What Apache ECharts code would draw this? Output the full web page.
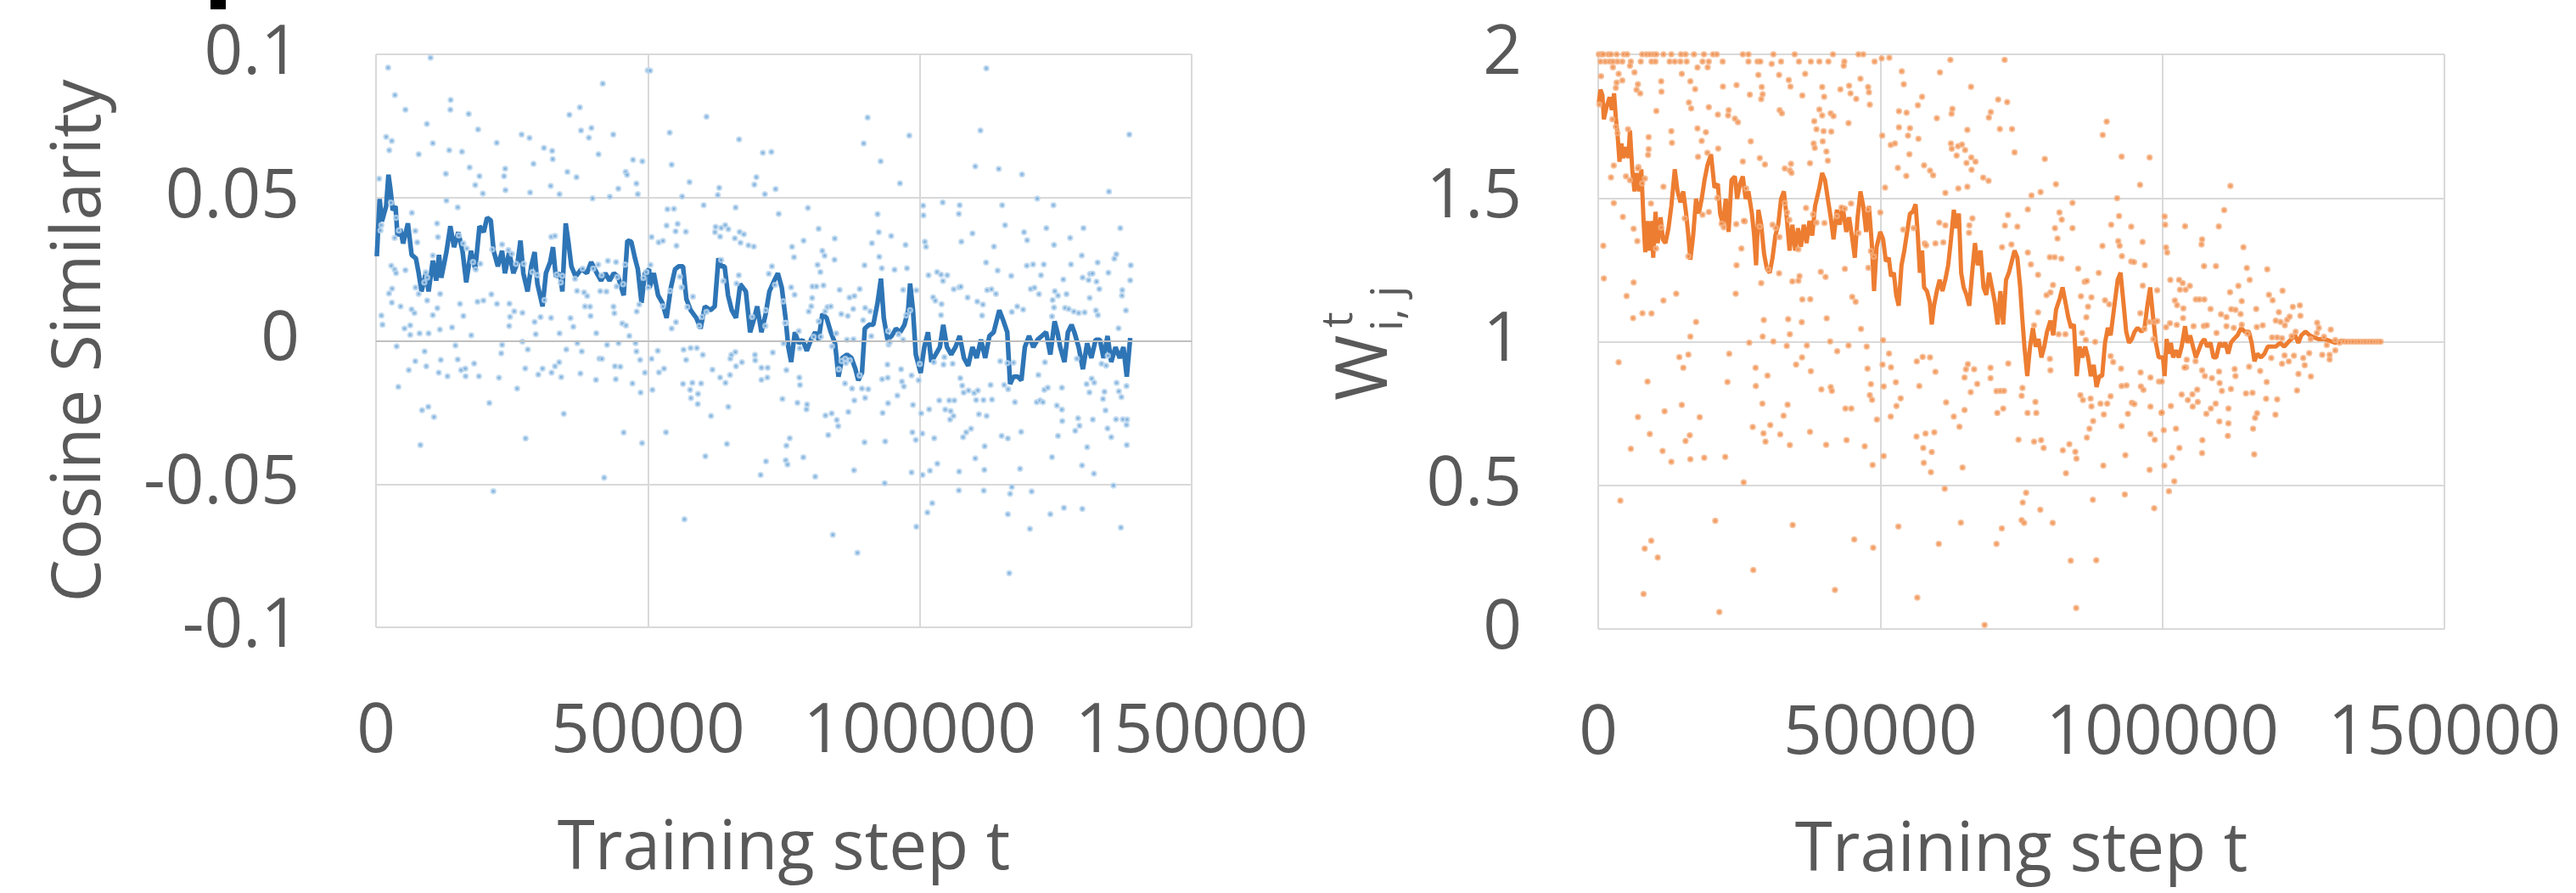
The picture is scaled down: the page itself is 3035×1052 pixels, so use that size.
<!DOCTYPE html>
<html>
<head>
<meta charset="utf-8">
<script src="https://cdn.jsdelivr.net/npm/echarts@6.0.0/dist/echarts.min.js"></script>
<style>
  html, body { margin: 0; padding: 0; background: #fff; }
  #chart { width: 3035px; height: 1052px; }
</style>
</head>
<body>
<div id="chart"></div>
<script>
// ---- data ----
var xTicks = [0, 50000, 100000, 150000];
var cosTicks = [-0.1, -0.05, 0, 0.05, 0.1];
var wTicks = [0, 0.5, 1, 1.5, 2];

// cosine similarity, single samples (step, value)
var cosinePoints = [
  [570,0.0566],[2230,0.0953],[1870,0.0712],[2910,0.0698],[2440,0.0665],[3480,0.0858],[5410,0.0807],[10030,0.0988],[9360,0.0757],[10450,0.069],
  [7850,0.0651],[13730,0.0841],[13670,0.0807],[13470,0.0665],[17050,0.0792],[15810,0.066],[18770,0.0738],[22200,0.0691],[17210,0.0605],[19030,0.0575],
  [18250,0.0544],[19650,0.0514],[23760,0.0601],[23550,0.0575],[23810,0.0526],[26780,0.072],[28230,0.0708],[28960,0.0618],[30890,0.0673],[32390,0.0663],
  [32500,0.0634],[32130,0.0541],[28340,0.0518],[33750,0.0512],[35570,0.0789],[37490,0.0815],[37700,0.0734],[39150,0.0709],[39620,0.0743],[40920,0.0651],
  [41700,0.0898],[43630,0.072],[35200,0.059],[36870,0.0571],[39830,0.0497],[43000,0.0503],[44560,0.0531],[45910,0.059],[46170,0.0579],[47270,0.0632],
  [48980,0.0627],[47890,0.0549],[48150,0.0512],[49970,0.0944],
  [990,0.0404],[830,0.0385],[2810,0.0262],[3430,0.0249],[3690,0.0236],[2390,0.0165],[2960,0.0182],[2910,0.0133],[990,0.0088],[1190,0.0056],
  [4520,0.012],[3790,-0.0019],[4110,-0.0161],[5250,0.0043],[6290,0.0054],[6290,0.0021],[6030,-0.0102],[6550,0.011],[7070,0.0097],[5410,0.0247],
  [6600,0.0447],[7230,0.0384],[7590,0.0344],[7280,0.0186],[7850,0.0164],[8010,0.0026],[7230,-0.0071],[8940,-0.0037],[9250,-0.0089],[9670,0.0026],
  [9410,0.0141],[8470,-0.0242],[9620,-0.023],[10660,-0.0266],[8160,-0.0364],[10450,0.009],[11280,0.0114],[11800,0.0164],[11750,0.0039],[11910,-0.0067],
  [11540,-0.0111],[13150,-0.0124],[13990,0.0047],[11230,0.041],[11390,0.0362],[10450,0.0298],[12840,0.0583],[12950,0.049],[15030,0.0466],[14610,-0.0016],
  [15030,-0.0065],[15440,0.0129],[16070,0.0087],[15650,-0.0102],[16430,-0.0097],[16480,-0.0124],[18040,-0.0079],[17520,0.0019],[18930,-0.0124],[18670,0.0136],
  [19760,0.0141],[20850,-0.0217],[21580,-0.0525],[21220,0.0162],[22250,0.0129],[22620,-0.0129],[23190,-0.0014],[23030,-0.0044],[24540,0.013],[24650,0.0084],
  [24490,0.0052],[25430,0.0103],[26930,0.0098],[26930,-0.0003],[25950,-0.0167],[27450,-0.0096],[27920,-0.003],[27510,-0.0341],[29170,0.0066],[29380,0.0023],
  [29850,-0.0118],[30630,-0.0097],[30260,0.0083],[32190,0.008],[32290,-0.0111],[32920,-0.0089],[33690,-0.0075],[34060,-0.0127],[34530,-0.0255],[33750,0.0026],
  [35000,-0.003],[35770,0.0079],[36290,0.0049],[37020,-0.0008],[37590,-0.0114],[37850,-0.0037],[36970,0.0174],[38430,0.012],[39470,0.0087],[40510,0.0027],
  [40450,-0.0136],[41080,-0.0062],[41550,-0.0063],[42490,-0.0014],[41960,-0.0478],[43940,-0.0089],[44930,-0.009],[44100,-0.0134],[44610,-0.0008],[45550,-0.032],
  [46590,0.0017],[47730,-0.0008],[47890,-0.0037],[48570,-0.0067],[49450,-0.0111],[47160,-0.0149],[48670,-0.0181],[48930,-0.0357],[48410,0.0127],[47940,0.0102],
  [43680,0.0119],[43840,0.0096],[45290,0.0061],[45970,0.0053],[44250,0.019],[41240,0.0173],[38270,0.0169],[38840,0.0156],[39360,0.0119],[42380,0.0172],
  [2760,0.0482],[3690,0.043],[4210,0.0385],[3430,0.0359],[9150,0.0239],[9410,0.0221],[8890,0.0204],[15230,0.0368],[16070,0.034],[16690,0.0322],
  [17830,0.0275],[18350,0.0249],[19190,0.0269],[21370,0.0319],[23190,0.0336],[24340,0.0317],[25010,0.0304],[25740,0.0269],[27200,0.0269],[28760,0.024],
  [29690,0.023],[30990,0.0142],[32240,0.0363],[32920,0.0366],[33230,0.0231],[34270,0.0227],[33960,0.0204],[36610,0.0216],[38010,0.0252],[39940,0.0252],
  [40870,0.0266],[41490,0.0229],[42640,0.0279],[44150,0.0275],[44360,0.0222],[45450,0.0198],[45810,0.0266],[49190,0.022],[49710,0.024],
  [50420,0.0943],[60780,0.0782],[54010,0.0727],[54370,0.0615],[57650,0.0554],[56300,0.0504],[66770,0.0703],[71140,0.0656],[72710,0.0659],[69950,0.0571],
  [69580,0.0545],[63120,0.0534],[62860,0.0509],[71510,0.0512],[73490,0.053],[60260,0.0473],[66140,0.0465],[53590,0.0459],[54790,0.0461],[53440,0.0402],
  [55470,0.0408],[55100,0.0382],[56980,0.0381],[51980,0.0344],[52760,0.0349],[50680,0.0362],[55260,0.0332],[62450,0.0398],[63490,0.0394],[64220,0.0404],
  [62340,0.0379],[63280,0.0364],[64790,0.039],[65990,0.0358],[66870,0.038],[67660,0.0372],[67030,0.0342],[68490,0.0333],[69480,0.0329],[74060,0.0443],
  [79430,0.0464],[81400,0.0391],[78640,0.035],[76510,0.0328],[84370,0.0357],[84320,0.0283],[82080,0.0314],[82500,0.0297],[81200,0.0265],[81720,0.024],
  [76870,0.0292],[72810,0.026],[72240,0.0234],[90410,0.0779],[89690,0.0689],[98070,0.0716],[92810,0.0627],[96350,0.055],[92240,0.0442],[92450,0.0379],
  [91200,0.0341],[94740,0.0366],[97390,0.0335],[89840,0.0264],[92550,0.0293],[93020,0.0253],[95360,0.0248],[97650,0.0253],[99370,0.0176],[96930,0.0178],
  [85260,0.0178],[87080,0.0151],[87970,0.0156],[88960,0.0181],[87760,0.0111],[86770,0.0087],[85570,0.0093],[90880,0.0103],[89950,0.0115],[80260,0.019],
  [80990,0.019],[82290,0.0193],[80210,0.015],[80050,0.0121],[83020,0.0118],[83640,0.012],[79580,0.0102],[76980,0.0161],[76350,0.0187],[74890,0.0138],
  [75420,0.0062],[77760,0.0034],[80470,0.0014],[81820,0.0014],[84630,0.0026],
  [50830,-0.0171],[52030,-0.011],[52970,-0.0097],[53330,-0.0319],[51820,-0.0035],[50680,-0.0063],[55160,0.0065],[54370,0.0043],[57030,-0.0067],[56560,-0.0031],
  [57860,-0.0025],[59010,-0.0025],[60100,-0.0049],[56460,-0.015],[57760,-0.0171],[58180,-0.0147],[59790,-0.0149],[57920,-0.02],[59220,-0.0185],[59170,-0.0221],
  [61610,-0.0262],[60570,-0.0403],[56720,-0.0623],[61870,-0.0101],[63280,-0.0128],[64270,-0.0147],[65100,-0.0119],[64790,-0.023],[64530,-0.036],[65160,-0.0062],
  [65360,-0.0049],[66090,-0.0039],[66200,-0.0089],[67290,-0.0075],[69690,-0.0049],[69740,-0.0068],[70880,-0.0094],[72030,-0.0094],[70880,-0.0136],[71970,-0.0128],
  [72970,-0.0041],[74740,-0.0203],[75470,-0.0102],[75470,-0.0366],[76090,-0.034],[75360,-0.0417],[75680,-0.0432],[71720,-0.0421],[70730,-0.0468],[77500,-0.0216],
  [77860,-0.0128],[77970,-0.0154],[79160,-0.0239],[79270,-0.0222],[78590,-0.0407],[80780,-0.0474],[82660,-0.0261],[83800,-0.0253],[84740,-0.0276],[85000,-0.0298],
  [83170,-0.0329],[84010,-0.0677],[86250,-0.0149],[87550,-0.0167],[87970,-0.0208],[86870,-0.0248],[89370,-0.0167],[89950,-0.0199],[90520,-0.0169],[87910,-0.0452],
  [88540,-0.074],[89840,-0.0354],[93170,-0.0252],[93070,-0.0134],[94110,-0.0129],[94160,-0.0218],[94060,-0.0083],[95880,-0.0191],[96560,-0.0099],[96720,-0.0142],
  [97080,-0.0159],[98490,-0.0121],[98750,-0.0224],[99270,-0.0346],[98640,-0.0319],[98490,-0.0459],[93540,-0.0497],[93640,-0.0351],[99370,-0.0649],[85620,-0.007],
  [86400,-0.0078],[87130,-0.0068],[86610,0.0004],[87810,0.0005],[94270,-0.0013],[94480,-0.0005],[96930,0.0004],
  [50050,0.0185],[50470,0.0265],[52760,0.012],[54110,0.0174],[55880,0.0224],[56200,0.0187],[57240,0.0118],[58280,0.0154],[59430,0.0052],[59950,0.0084],
  [60780,0.0101],[63490,0.0282],[63850,0.0209],[66300,0.02],[66720,0.0229],[69160,0.0084],[71660,0.0107],[71610,0.0052],[73380,0.0195],[75210,0.0062],
  [74950,-0.0009],[77920,-0.0026],[81400,0.0068],[82600,0.0103],[83850,-0.0019],[85100,-0.0099],[86300,-0.0063],[88960,-0.0121],[89580,0.0072],[91090,0.0016],
  [94210,0.0034],[96090,0.0022],[97500,0.0089],[98220,0.0107],
  [112240,0.0951],[111150,0.0734],[138540,0.072],[110210,0.0609],[114530,0.06],[118800,0.0581],[134790,0.0521],[121610,0.0496],[104220,0.0483],[107340,0.0473],
  [100620,0.0472],[100680,0.0438],[107190,0.0443],[115150,0.0473],[124580,0.0473],[115680,0.0404],[109690,0.0375],[119170,0.0379],[123280,0.0393],[130100,0.0393],
  [136870,0.0393],[119740,0.0351],[107650,0.0346],[100940,0.0346],[101150,0.0328],[124690,0.0335],[127650,0.0359],[113640,0.0329],[129790,0.0298],[135780,0.0287],
  [136140,0.0302],[112190,0.0273],[119690,0.0262],[120830,0.0267],[122810,0.0267],[127810,0.0267],[138800,0.0264],[114320,0.0245],[101610,0.0229],[103180,0.024],
  [103910,0.0231],[105050,0.0229],[116820,0.0227],[122290,0.0229],[129950,0.0221],[131300,0.0233],[131770,0.0235],[132710,0.0273],[134690,0.0238],[138700,0.0211],
  [131040,0.0212],[132500,0.0207],[133020,0.0181],[126400,0.0214],[104270,0.0209],[106250,0.018],[107240,0.0187],[107550,0.0189],[112390,0.0177],[113180,0.018],
  [114010,0.0164],[120410,0.0181],[121090,0.0185],[121920,0.0163],[124840,0.0173],[125420,0.0158],[126980,0.0163],[131250,0.015],[137180,0.0158],[137240,0.0177],
  [108800,0.0151],[110570,0.0137],[111610,0.0127],[102450,0.0152],[102860,0.014],[104010,0.0128],[103910,0.009],[117920,0.012],[119010,0.0109],[124430,0.0142],
  [124690,0.0116],[126720,0.0115],[127390,0.0111],[128330,0.0102],[129220,0.0097],[130310,0.0099],[132390,0.0106],[132760,0.009],[137910,0.0106],[111460,0.0088],
  [116930,0.0101],[124320,0.0085],[136560,0.0044],
  [99790,-0.0138],[100260,-0.0253],[100470,-0.0324],[101870,-0.0453],[102660,-0.034],[101720,-0.0239],[103590,-0.0208],[104690,-0.024],[105420,-0.0208],[106350,-0.0208],
  [105570,-0.0275],[106200,-0.0262],[105680,-0.0245],[104370,-0.0083],[107450,-0.013],[107810,-0.0156],[108070,-0.0181],[108960,-0.0173],[110000,-0.0182],[110680,-0.0173],
  [110360,-0.0207],[111720,-0.0207],[113280,-0.0205],[113020,-0.0154],[110880,-0.0256],[112290,-0.0262],[109430,-0.0307],[108540,-0.0319],[107970,-0.0336],[111930,-0.0368],
  [110210,-0.041],[107240,-0.0456],[111870,-0.045],[107190,-0.0522],[111770,-0.0523],[103230,-0.0429],[102290,-0.0567],[101410,-0.0599],[100520,-0.0468],[115520,-0.0154],
  [116250,-0.0169],[117500,-0.0214],[115050,-0.0332],[116200,-0.0341],[118640,-0.0318],[118440,-0.0447],[116930,-0.051],[116610,-0.0534],[116200,-0.0605],[116460,-0.0811],
  [120570,-0.0526],[120260,-0.0656],[121510,-0.0214],[122130,-0.0208],[122650,-0.0214],[122910,-0.0171],[123540,-0.0164],[121820,-0.0119],[125210,-0.0226],[126140,-0.024],
  [126200,-0.028],[126140,-0.0164],[125420,-0.0332],[124320,-0.0406],[124010,-0.0605],[126510,-0.0583],[129110,-0.027],[129380,-0.0296],[128590,-0.0314],[130780,-0.0371],
  [129840,-0.0435],[132030,-0.0464],[129890,-0.0587],[130680,-0.0151],[131200,-0.018],[131610,-0.0132],[132080,-0.0146],[131820,-0.0275],[133700,-0.0203],[133960,-0.0178],
  [134160,-0.0243],[134530,-0.0306],[135210,-0.0336],[135620,-0.0505],[136200,-0.0147],[136610,-0.0176],[137080,-0.0196],[136090,-0.0274],[137340,-0.0274],[138120,-0.0275],
  [138020,-0.0293],[138070,-0.0364],[136980,-0.0652],[138020,-0.0158],[133430,-0.008],[134270,-0.0087],[104530,-0.0057],[106040,-0.008],[102600,-0.0075],[100000,-0.0081],
  [114790,-0.0071],[116090,-0.0078],[117240,-0.0076],[123020,-0.0075],[128900,-0.0062],[134580,-0.0052]
];

// cosine similarity, running average (step, value)
var cosineTrend = [
  [150,0.0295],[670,0.0495],[1090,0.0417],[1870,0.047],[2290,0.058],[2650,0.053],[3070,0.0456],[3590,0.047],[3950,0.0366],[4470,0.039],
  [4990,0.034],[5870,0.041],[6550,0.030],[7330,0.0288],[7850,0.0236],[8370,0.0172],[9150,0.0236],[9670,0.0172],[10450,0.028],[11070,0.021],
  [11590,0.030],[12010,0.022],[12950,0.031],[13670,0.040],[14350,0.0327],[15130,0.0379],[15910,0.0314],[16590,0.0204],[17470,0.0314],[18250,0.025],
  [19030,0.040],[19810,0.038],[20430,0.043],[21110,0.042],[21630,0.0314],[22410,0.026],[23190,0.0314],[23710,0.0236],[24490,0.031],[25270,0.0236],
  [26050,0.0275],[26570,0.035],[27090,0.0236],[27870,0.0172],[28550,0.026],[29170,0.031],[29690,0.0198],[30630,0.012],[31250,0.0236],[32030,0.0275],
  [32550,0.0327],[33070,0.0224],[33850,0.0236],[34270,0.0172],[34890,0.041],[35410,0.034],[35930,0.026],[36710,0.0224],[37750,0.025],[38790,0.0236],
  [39570,0.0275],[40610,0.0236],[41390,0.021],[42170,0.0236],[42950,0.021],[43730,0.0236],[44510,0.0224],[45550,0.0159],[46230,0.035],[46950,0.0346],
  [47630,0.0288],[48150,0.025],[48830,0.0133],[49450,0.0236],[50230,0.025],
  [50310,0.0185],[51090,0.0236],[51870,0.0159],[52650,0.0133],[53440,0.008],[54220,0.0185],[55000,0.025],[55680,0.026],[56460,0.026],[57080,0.0146],
  [57860,0.0107],[58900,0.008],[59690,0.0043],[60470,0.012],[61510,0.0107],[62290,0.012],[62970,0.0288],[63490,0.026],[64110,0.026],[64740,0.0159],
  [65420,0.0107],[66200,0.008],[66980,0.0198],[68020,0.0172],[68800,0.003],[69580,0.008],[70100,0.012],[70880,0.003],[71660,0.0094],[72340,0.0172],
  [73230,0.021],[73900,0.0236],[74630,0.0185],[75310,0.008],[75830,-0.0022],[76350,-0.0074],[77030,0.003],[77760,-0.0009],[78440,0.0004],[79220,-0.0035],
  [80000,0.0004],[80780,0.003],[81400,0.0004],[82080,0.0094],[82860,0.008],[83640,0.003],[84420,-0.0009],[85050,-0.0125],[85730,-0.006],[86610,-0.0048],
  [87440,-0.006],[88170,-0.0099],[88690,-0.0138],[89370,-0.0112],[89890,0.0043],[90680,0.0056],[91460,0.0056],[92240,0.0133],[92860,0.0217],[93380,0.008],
  [94060,0.0004],[94840,0.0017],[95620,0.0043],[96400,0.003],[97180,0.0056],[97860,0.0107],[98220,0.020],[98750,0.0107],[99270,-0.0048],
  [99530,-0.0048],[100160,-0.0112],[100830,-0.0022],[101510,0.003],[102130,-0.0074],[102920,-0.0048],[103700,-0.0022],[104320,0.0056],[105000,-0.0022],[105780,-0.0048],
  [106560,-0.0022],[107340,0.0017],[108120,-0.006],[108900,-0.0087],[109690,-0.0022],[110470,-0.006],[111250,0.0004],[112030,-0.006],[112810,0.0017],[113590,0.003],
  [114630,0.0107],[115410,0.0068],[116090,0.003],[116610,-0.0151],[117240,-0.0125],[118020,-0.0125],[118690,-0.0138],[119320,-0.0022],[120100,0.0017],[120880,-0.0022],
  [121660,0.0004],[122450,0.0017],[123230,0.003],[124010,-0.0048],[124790,0.0068],[125310,0.003],[125830,-0.0022],[126610,-0.0074],[127240,0.003],[127910,0.0056],
  [128430,0.003],[129220,-0.0022],[130000,-0.0099],[130780,-0.0009],[131560,-0.006],[132340,0.0004],[133120,0.0004],[133800,-0.006],[134530,0.0017],[135210,-0.0074],
  [135990,-0.0022],[136770,-0.006],[137450,-0.0022],[138070,-0.0125],[138700,0.001]
];

// weight W, single samples (step, value)
var weightPoints = [
  [100,2],[600,2],[900,2],[1760,2],[2260,2],[3270,2],[4520,2],[5130,2],[7790,2],[8540,2],[9150,2],[9800,2],[10300,2],[11560,2],
  [12960,2],[14670,2],[15480,2],[16980,2],[18740,2],[20350,2],[21010,2],[25630,2],[26630,2],[31050,2],[34820,2],[41610,2],[46130,2],[46980,2],
  [400,1.975],[1260,1.975],[2010,1.975],[2610,1.975],[3420,1.975],[4270,1.975],[5780,1.975],[7540,1.975],[9450,1.975],[10150,1.975],
  [12660,1.975],[13570,1.975],[14570,1.975],[15680,1.975],[18490,1.975],[19600,1.975],[22060,1.975],[26630,1.975],[28240,1.975],[28740,1.975],
  [32410,1.975],[35580,1.975],[37690,1.975],[39200,1.975],[40800,1.975],[43620,1.975],[48990,1.975],
  [500,1.924],[2610,1.955],[3620,1.932],[5630,1.96],[6430,1.937],[3270,1.902],[4270,1.909],[3120,1.883],[7040,1.896],[6780,1.877],
  [7440,1.864],[11160,1.906],[11210,1.87],[14820,1.932],[17180,1.879],[22110,1.888],[24520,1.893],[19400,1.955],[17590,1.954],[16330,1.906],
  [28390,1.928],[28990,1.886],[29150,1.861],[26880,1.86],[28890,1.844],[30750,1.967],[32060,1.928],[33770,1.911],[36680,1.932],[36180,1.857],
  [34070,1.888],[39700,1.886],[40050,1.852],[44470,1.891],[44720,1.864],[46480,1.915],[47990,1.868],[47840,1.886],[48140,1.825],[42920,1.878],
  [45730,1.845],[43520,1.96],[10300,1.803],[16080,1.832],[16480,1.812],[19600,1.816],[21210,1.79],[23120,1.806],[23020,1.787],[24220,1.776],
  [24770,1.764],[32160,1.806],[32560,1.795],[39200,1.808],[39700,1.787],[41210,1.795],[41710,1.785],[38290,1.767],[38690,1.739],[39950,1.733],
  [41310,1.731],[44370,1.761],[5280,1.739],[8940,1.712],[12960,1.733],[13070,1.692],[17590,1.742],[19090,1.729],[18340,1.699],[27040,1.697],
  [38190,1.69],[38390,1.674],[39800,1.697],[40450,1.662],[40700,1.63],[37540,1.621],[34170,1.619],[33070,1.603],[33970,1.596],[34270,1.587],
  [29550,1.617],[28640,1.639],[25630,1.627],[21260,1.672],[19350,1.657],[17690,1.643],[11560,1.539],[8940,1.67],[8840,1.65],[7140,1.608],
  [2760,1.613],[2260,1.572],[2760,1.482],[4370,1.434],[6280,1.393],[6930,1.35],[900,1.334],[1000,1.22],[5030,1.159],[6280,1.206],
  [6180,1.082],[7840,1.099],[9450,1.098],[11560,1.143],[13820,1.167],[17340,1.069],[16330,1.018],[14370,0.946],[15980,0.955],[15080,0.909],
  [3620,0.928],[8740,0.861],[7040,0.738],[5780,0.627],[11760,0.758],[9150,0.679],[11410,0.62],[12960,0.582],[14820,0.78],[15480,0.654],
  [16230,0.674],[16330,0.591],[17990,0.737],[18790,0.596],[22510,0.599],[23220,0.958],[22910,0.86],[24520,1.266],[24370,1.167],[25380,1.324],
  [25980,1.419],[27390,0.703],[26780,0.996],[27890,0.909],[27940,0.846],[29100,0.784],[29300,0.681],[29650,0.652],[30000,0.882],[30500,0.71],
  [29150,1.018],[29350,1.075],[28890,1.204],[31050,1.001],[32060,1.238],[32260,0.677],[32860,0.742],[33570,0.781],[33970,0.64],[33420,0.985],
  [33670,1.078],[33970,1.026],[34420,1.21],[35070,0.92],[35680,1.228],[35480,1.212],[36080,1.068],[36180,1.147],[36130,0.945],[36980,0.987],
  [37590,1.148],[37540,0.686],[37690,0.897],[39450,1.243],[40300,1.225],[40500,1.081],[41110,1.001],[42360,0.967],[43720,1.253],[44370,0.987],
  [45020,1.156],[45630,1.139],[46580,1.044],[47590,0.983],[47740,0.906],[48340,0.852],[48140,0.814],[48540,0.798],[49400,0.729],[47240,0.636],
  [48640,0.571],[43820,0.767],[44870,0.767],[44020,0.657],[40400,0.641],[39550,0.834],[41210,0.842],[41410,0.829],[45380,0.312],[48740,0.283],
  [41960,0.136],[34470,0.362],[27490,0.205],[25780,0.51],[20750,0.377],[21460,0.059],[3920,0.447],[9400,0.307],[8240,0.28],[10550,0.249],
  [8040,0.122],
  [200,1.826],[2510,1.774],[3120,1.748],[3420,1.726],[4920,1.575],[5630,1.562],[7040,1.603],[8290,1.568],[7790,1.551],[9350,1.481],
  [10250,1.324],[11160,1.397],[15330,1.429],[15980,1.297],[18490,1.442],[19600,1.451],[21110,1.5],[21860,1.411],[22260,1.398],[24470,1.409],
  [25830,1.42],[26230,1.533],[28640,1.4],[30150,1.251],[30900,1.407],[31460,1.396],[32110,1.364],[33070,1.482],[33470,1.45],[33870,1.424],
  [35480,1.321],[36830,1.465],[38090,1.443],[38690,1.414],[40100,1.413],[42310,1.437],[43120,1.467],[43720,1.463],[44820,1.481],[46130,1.378],
  [47840,1.46],[48840,1.296],[48340,1.315],[47890,1.257],[50000,1.45],
  [50250,1.986],[51600,1.988],[62420,1.981],[72040,1.981],[53810,1.941],[54160,1.896],[60570,1.937],[66080,1.887],[57410,1.852],[56660,1.823],
  [53310,1.802],[54660,1.797],[62780,1.81],[62630,1.793],[60020,1.778],[70890,1.843],[72490,1.834],[69590,1.799],[69240,1.78],[53310,1.746],
  [55260,1.743],[54910,1.717],[56760,1.706],[71190,1.74],[73350,1.74],[65430,1.737],[50350,1.717],[51850,1.685],[52600,1.69],[62520,1.69],
  [62670,1.671],[63780,1.68],[64480,1.686],[65030,1.667],[63530,1.648],[55160,1.652],[73800,1.659],[66130,1.641],[65280,1.622],[66880,1.626],
  [66180,1.598],[53110,1.605],[57760,1.614],[58820,1.595],[59370,1.579],[54610,1.577],[68240,1.571],[69190,1.56],[63830,1.533],[65430,1.539],
  [61530,1.518],[50850,1.536],[79160,1.636],[78410,1.521],[76800,1.509],[81130,1.548],[89430,1.719],[90130,1.766],[92780,1.644],[97740,1.641],
  [96040,1.546],[91980,1.499],[84070,1.483],[81760,1.45],[82160,1.425],[80960,1.395],[81410,1.359],[84070,1.395],[76150,1.46],[72640,1.441],
  [72090,1.404],[74300,1.4],[66330,1.429],[65780,1.405],[65730,1.379],[61530,1.405],[60460,1.414],[55910,1.395],[54060,1.39],[94480,1.4],
  [90930,1.407],[92330,1.437],[92180,1.35],[92430,1.334],[92830,1.298],[89380,1.333],[96490,1.347],[94480,1.279],[94980,1.277],[96890,1.266],
  [99080,1.179],[96530,1.195],[57860,1.342],[59770,1.342],[61170,1.346],[58120,1.335],[71590,1.329],[73250,1.338],[76150,1.31],[76700,1.269],
  [77960,1.233],[80060,1.294],[80910,1.294],[82110,1.289],[85070,1.254],[88720,1.239],[77960,1.102],[77260,1.057],[80160,1.171],[79460,1.162],
  [80610,1.197],[81610,1.026],[82810,1.026],[86220,1.208],[86620,1.211],[87430,1.154],[86820,1.122],[85570,1.158],[86520,1.085],[85770,1.03],
  [86420,1.006],[88080,0.999],[89830,1.144],[90580,1.13],[96090,1.099],[97690,1.069],[98650,1.069],[96840,1.044],[98400,1.008],[99100,1.072],
  [50500,1.005],[50400,0.92],[50600,0.844],[51550,0.959],[51900,0.911],[52760,0.859],[53610,0.803],[52860,0.776],[51850,0.739],[50600,0.602],
  [56460,0.931],[57510,0.947],[58820,0.945],[56910,0.846],[59770,0.895],[61670,0.789],[63030,0.739],[64030,0.704],[64930,0.762],[65180,0.904],
  [65530,0.922],[64930,0.875],[66630,0.904],[67180,0.853],[66030,0.824],[69540,0.909],[69540,0.873],[70590,0.828],[71290,0.829],[71940,0.829],
  [70740,0.752],[71790,0.767],[72690,0.924],[56410,0.67],[58020,0.68],[59570,0.685],[57610,0.63],[59120,0.616],[57710,0.578],[58970,0.546],
  [64580,0.562],[61420,0.488],[64280,0.37],[60370,0.296],[53210,0.357],[56560,0.109],[68490,0.014],[70590,0.296],[71540,0.35],[74500,0.659],
  [75200,0.839],[75050,0.812],[76100,0.752],[77260,0.652],[77500,0.79],[77650,0.752],[78510,0.657],[78960,0.63],[75850,0.474],[75250,0.44],
  [75050,0.379],[75500,0.369],[78360,0.415],[80560,0.369],[80160,0.9],[80060,0.94],[85470,0.814],[85920,0.797],[87280,0.802],[87430,0.775],
  [87730,0.724],[87080,0.697],[86620,0.666],[84570,0.617],[84770,0.593],[83510,0.643],[82360,0.622],[82910,0.542],[83760,0.238],[84720,0.073],
  [88280,0.239],[87680,0.45],[89530,0.569],[89630,0.747],[89030,0.784],[90230,0.784],[90830,0.81],[92780,0.706],[93440,0.605],[93890,0.749],
  [93340,0.468],[92780,0.846],[93640,0.848],[96190,0.844],[96640,0.832],[94590,0.787],[95040,0.783],[97890,0.774],[97890,0.679],[98650,0.659],
  [97740,0.554],[98550,0.42],[99850,0.752],[96140,0.893],[97890,0.875],[99400,0.861],[90830,0.95],[91280,0.929],[92680,0.906],
  [112060,1.542],[110950,1.458],[110000,1.401],[104020,1.402],[100400,1.436],[100500,1.407],[107040,1.356],[106940,1.338],[100650,1.328],[100850,1.31],
  [114370,1.329],[107390,1.263],[109500,1.263],[114970,1.256],[118590,1.252],[115480,1.215],[101410,1.215],[102960,1.215],[103620,1.204],[103120,1.181],
  [104120,1.181],[104870,1.194],[113470,1.194],[111990,1.172],[102210,1.143],[102610,1.127],[105930,1.147],[106580,1.147],[107440,1.147],[103720,1.116],
  [103670,1.082],[108540,1.114],[110400,1.095],[111360,1.086],[112210,1.113],[112960,1.111],[113870,1.096],[114070,1.141],[116630,1.114],[118890,1.163],
  [119550,1.144],[120650,1.103],[121300,1.177],[120100,1.073],[120950,1.069],[121710,1.057],[122110,1.076],[122560,1.087],[123120,1.121],[124370,1.126],
  [124470,1.09],[127440,1.066],[127740,1.048],[129850,1.042],[100650,1.05],[101360,1.064],[102560,1.058],[105530,1.054],[107340,1.055],[107890,1.057],
  [109600,1.03],[111360,1.054],[112660,1.048],[114070,1.059],[115080,1.028],[116730,1.051],[117790,1.057],[119450,1.015],[120350,1.015],[121210,1.012],
  [122910,1.019],[123620,1.035],[126280,1.009],[127390,1.03],[128640,1.017],[129150,0.988],[130650,1.006],[131410,0.996],[132160,1.001],
  [99900,0.861],[99900,0.753],[100250,0.692],[100350,0.569],[101160,0.479],[102110,0.514],[101710,0.596],[103020,0.63],[102410,0.697],[101510,0.776],
  [103420,0.816],[104520,0.797],[105330,0.817],[106180,0.833],[105380,0.774],[106280,0.79],[107040,0.9],[107540,0.88],[108790,0.873],[110050,0.896],
  [110150,0.856],[110550,0.829],[112160,0.835],[107790,0.749],[108590,0.767],[109450,0.784],[110100,0.722],[111710,0.767],[111710,0.716],[111610,0.672],
  [107090,0.657],[107040,0.612],[104320,0.937],[104220,0.911],[103920,0.91],[105880,0.932],[112810,0.905],[112960,0.88],[114820,0.82],[115980,0.822],
  [116780,0.751],[116430,0.735],[116080,0.697],[116280,0.608],[115380,0.913],[117340,0.898],[118390,0.801],[118490,0.86],[120350,0.799],[120050,0.746],
  [119300,0.943],[121210,0.923],[121660,0.952],[122410,0.931],[123320,0.951],[124120,0.888],[123870,0.83],[124970,0.943],[125230,0.918],[126030,0.96],
  [126330,0.879],[128340,0.954],[129650,0.938],[129650,0.954],[130650,0.97],
  [132700,1],[133300,1],[133800,1],[134400,1],[134900,1],[135500,1],[136000,1],[136600,1],[137100,1],[137700,1],[138200,1],[138700,1]
];

// weight W, running average (step, value)
var weightTrend = [
  [100,1.832],[400,1.877],[750,1.857],[1000,1.774],[1510,1.819],[2010,1.851],[2410,1.806],[2810,1.864],[3120,1.78],[3420,1.722],
  [3770,1.626],[4120,1.69],[4420,1.639],[4920,1.677],[5330,1.639],[5630,1.735],[6030,1.6],[6430,1.523],[6780,1.587],[7290,1.523],
  [7640,1.6],[8040,1.42],[8340,1.311],[8640,1.42],[9050,1.317],[9450,1.42],[9750,1.292],[10150,1.452],[10550,1.343],[11060,1.433],
  [11460,1.356],[11910,1.343],[12460,1.395],[12960,1.472],[13570,1.6],[14070,1.523],[14570,1.485],[15070,1.523],[15580,1.446],[15980,1.369],
  [16330,1.285],[16830,1.369],[17340,1.497],[17840,1.446],[18340,1.497],[18840,1.562],[19350,1.613],[20000,1.652],[20600,1.536],[21210,1.549],
  [21610,1.446],[22110,1.407],[22610,1.497],[23120,1.382],[23620,1.562],[24220,1.575],[24620,1.497],[25130,1.549],[25630,1.575],[26130,1.497],
  [26630,1.523],[27240,1.446],[27640,1.369],[27990,1.266],[28390,1.459],[28890,1.407],[29400,1.305],[29900,1.253],[30400,1.24],[30900,1.292],
  [31400,1.369],[31910,1.407],[32410,1.497],[32910,1.523],[33410,1.433],[33920,1.317],[34420,1.407],[34920,1.317],[35420,1.395],[35930,1.33],
  [36430,1.407],[36930,1.343],[37440,1.42],[37940,1.369],[38440,1.472],[39200,1.536],[39700,1.587],[40200,1.562],[40700,1.497],[41210,1.433],
  [41710,1.356],[42310,1.459],[42810,1.407],[43320,1.472],[43970,1.382],[44470,1.433],[44970,1.369],[45480,1.292],[45980,1.433],[46480,1.523],
  [46980,1.472],[47490,1.382],[47990,1.472],[48490,1.343],[48890,1.176],[49350,1.33],[50000,1.382],
  [50500,1.356],[51000,1.279],[51500,1.292],[51900,1.228],[52400,1.24],[52810,1.163],[53260,1.125],[53760,1.266],[54260,1.317],[54760,1.382],
  [55260,1.446],[55760,1.452],[56260,1.478],[56660,1.369],[57010,1.24],[57410,1.317],[57760,1.189],[58270,1.176],[58770,1.138],[59120,1.06],
  [59520,1.125],[60020,1.176],[60520,1.215],[61020,1.176],[61520,1.215],[62030,1.266],[62530,1.356],[63030,1.459],[63430,1.395],[63930,1.446],
  [64330,1.24],[64780,1.189],[65280,1.163],[65780,1.125],[66280,1.24],[66780,1.343],[67280,1.266],[67790,1.317],[68290,1.189],[68790,1.163],
  [69290,1.24],[69790,1.189],[70290,1.138],[70790,1.06],[71290,1.176],[71790,1.06],[72290,1.215],[72790,1.24],[73300,1.279],[73800,1.317],
  [74300,1.292],[74800,1.189],[75150,1.086],[75550,0.983],[76050,0.88],[76550,0.983],[77050,1.048],[77550,0.983],[78050,1.009],[78560,0.945],
  [79060,0.983],[79560,1.035],[80160,1.073],[80660,1.022],[81160,1.112],[81810,1.15],[82310,1.189],[82810,1.138],[83310,1.086],[83820,1.048],
  [84320,1.06],[84820,0.88],[85320,0.983],[85820,0.945],[86320,0.983],[86820,0.945],[87320,0.88],[87830,0.919],[88330,0.842],[88830,0.88],
  [89330,0.88],[89830,0.996],[90330,1.048],[90830,1.022],[91580,1.138],[92080,1.215],[92590,1.24],[93090,1.138],[93590,1.035],[94090,0.996],
  [94590,1.009],[95090,1.035],[95590,1.048],[96340,1.035],[96840,1.048],[97340,1.125],[97840,1.189],[98350,1.086],[98850,0.996],[99350,0.945],
  [100100,0.945],
  [100400,0.88],[100750,1.009],[101110,0.958],[101510,0.996],[101910,0.945],[102410,0.97],[102910,0.945],[103420,0.983],[104020,1.054],[104420,0.996],
  [104920,1.022],[105430,0.983],[105930,0.945],[106430,0.97],[106930,0.996],[107440,1.009],[107940,0.983],[108540,0.996],[109050,0.945],[109550,0.945],
  [110150,0.996],[110650,0.983],[111160,0.996],[111660,0.958],[112160,0.996],[112660,1.009],[113320,1.022],[113970,1.048],[114570,1.035],[115330,1.035],
  [115830,0.996],[116330,0.932],[116830,0.958],[117490,0.945],[118090,0.958],[118690,0.983],[119350,0.983],[120100,0.983],[120850,0.996],[121610,0.983],
  [122210,0.996],[122860,1.009],[123520,1.022],[124120,0.996],[124620,1.022],[125380,1.035],[126130,1.022],[126880,1.015],[127640,1.009],[128640,1.009],
  [129650,1.003],[130650,0.996],[131660,1.003],[132660,1.0],[134670,1.0],[136680,1.0],[138690,1.0]
];

// ---- styling ----
var FONT = '"Open Sans", "Noto Sans", sans-serif';
var TXT = '#595959';
var GRIDC = '#D9D9D9';

function xAxisFor(gridIndex) {
  return {
    gridIndex: gridIndex,
    type: 'value',
    min: xTicks[0], max: xTicks[xTicks.length - 1],
    interval: xTicks[1] - xTicks[0],
    name: 'Training step t',
    nameLocation: 'middle',
    nameGap: 222,
    nameTextStyle: { fontFamily: FONT, fontSize: 80, color: TXT },
    axisLine: { show: false },
    axisTick: { show: false },
    axisLabel: { fontFamily: FONT, fontSize: 80, color: TXT, margin: 84, formatter: function (v) { return String(v); } },
    splitLine: { show: true, lineStyle: { color: GRIDC, width: 2 } }
  };
}

function yAxisFor(gridIndex, ticks, name) {
  return {
    gridIndex: gridIndex,
    type: 'value',
    min: ticks[0], max: ticks[ticks.length - 1],
    interval: ticks[1] - ticks[0],
    name: name,
    nameLocation: 'middle',
    nameGap: 308,
    nameTextStyle: { fontFamily: FONT, fontSize: 80, color: TXT },
    axisLine: { show: false },
    axisTick: { show: false },
    axisLabel: { fontFamily: FONT, fontSize: 80, color: TXT, margin: 90 },
    splitLine: { show: true, lineStyle: { color: GRIDC, width: 2 } }
  };
}

var chart = echarts.init(document.getElementById('chart'), null, { renderer: 'canvas' });

chart.setOption({
  backgroundColor: '#ffffff',
  animation: false,
  grid: [
    { left: 443, right: 1631, top: 64, bottom: 313 },
    { left: 1883, right: 155, top: 64, bottom: 311 }
  ],
  xAxis: [xAxisFor(0), xAxisFor(1)],
  yAxis: [yAxisFor(0, cosTicks, 'Cosine Similarity'), yAxisFor(1, wTicks, '')],
  graphic: [
    // cropped black fragment at top-left of the reference
    { type: 'rect', left: 248, top: 0, shape: { width: 18, height: 11 }, style: { fill: '#000' } },
    {
      type: 'group', x: 1641, y: 472, rotation: Math.PI / 2,
      children: [
        { type: 'text', x: 0, y: -31, style: { text: 'W', fontFamily: FONT, fontSize: 84, fill: TXT, align: 'left', verticalAlign: 'middle' } },
        { type: 'text', x: 82, y: -4, style: { text: 'i, j', fontFamily: FONT, fontSize: 52, fill: TXT, align: 'left', verticalAlign: 'middle' } },
        { type: 'text', x: 86, y: -63, style: { text: 't', fontFamily: FONT, fontSize: 52, fill: TXT, align: 'left', verticalAlign: 'middle' } }
      ]
    }
  ],
  series: [
    {
      type: 'line', xAxisIndex: 0, yAxisIndex: 0,
      data: cosineTrend, showSymbol: false, z: 2,
      lineStyle: { color: '#2E75B6', width: 5.5 },
      markLine: {
        silent: true, symbol: 'none', label: { show: false },
        lineStyle: { color: '#BFBFBF', width: 2, type: 'solid' },
        data: [{ yAxis: 0 }]
      }
    },
    {
      type: 'scatter', xAxisIndex: 0, yAxisIndex: 0,
      data: cosinePoints, symbol: 'circle', symbolSize: 5, z: 3,
      itemStyle: { color: '#5B9BD5', borderColor: 'rgba(189,215,238,0.95)', borderWidth: 2.5 }
    },
    {
      type: 'line', xAxisIndex: 1, yAxisIndex: 1,
      data: weightTrend, showSymbol: false, z: 2,
      lineStyle: { color: '#ED7D31', width: 5 }
    },
    {
      type: 'scatter', xAxisIndex: 1, yAxisIndex: 1,
      data: weightPoints, symbol: 'circle', symbolSize: 5, z: 3,
      itemStyle: { color: '#ED7D31', borderColor: 'rgba(244,177,131,0.95)', borderWidth: 2.5 }
    }
  ]
});

window.addEventListener('resize', function () {
  chart.resize();
});
</script>
</body>
</html>
